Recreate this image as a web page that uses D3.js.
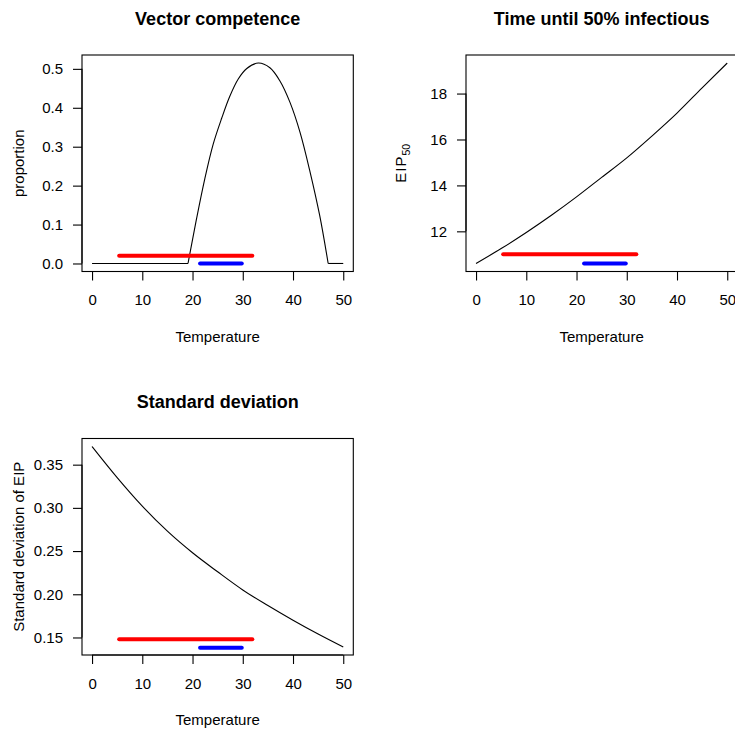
<!DOCTYPE html>
<html lang="en">
<meta charset="utf-8">
<head>
    <title>Temperature dependence</title>
    <script src="https://d3js.org/d3.v7.min.js"></script>
    <style type="text/css">
        body { margin: 0; background: white; }
        svg text { font-family: "Liberation Sans", Arial, sans-serif; fill: #000; }
        .tick-label { font-size: 15px; }
        .axis-title { font-size: 15px; }
        .main-title { font-size: 18px; font-weight: bold; }
    </style>
</head>
<body>
<div id="chart"></div>

<script>
// temperature ranges shown as horizontal bars
var redRange = [5.4, 31.9];
var blueRange = [21.5, 29.8];
var xTicks = [0, 10, 20, 30, 40, 50];

// panel 1 - vector competence
var compTemp = [0, 19.1, 20.8, 22.45, 24.1, 25.8, 27.4, 29.1, 30.8, 33.1, 35.4, 37.4, 39.4, 41.4, 43.4, 45.3, 47.0, 50];
var compValue = [0, 0, 0.115, 0.218, 0.306, 0.373, 0.429, 0.474, 0.501, 0.515, 0.503, 0.469, 0.414, 0.337, 0.235, 0.124, 0, 0];
var compTicks = [0.0, 0.1, 0.2, 0.3, 0.4, 0.5];
var compBars = [0.02, 0];

// panel 2 - EIP50
var eipTemp = [0, 5, 10, 15, 20, 25, 30, 35, 40, 45, 50];
var eipValue = [10.6, 11.25, 11.95, 12.7, 13.5, 14.35, 15.2, 16.15, 17.15, 18.25, 19.33];
var eipTicks = [12, 14, 16, 18];
var eipBars = [11.0, 10.6];

// panel 3 - standard deviation of EIP
var sdTemp = [0, 5, 10, 15, 20, 25, 30, 35, 40, 45, 50];
var sdValue = [0.371, 0.335, 0.302, 0.273, 0.248, 0.226, 0.205, 0.187, 0.170, 0.154, 0.139];
var sdTicks = [0.15, 0.20, 0.25, 0.30, 0.35];
var sdBars = [0.148, 0.138];

var w = 735;
var h = 730;

var svg = d3.select("#chart")
    .append("svg")
    .attr("width", w)
    .attr("height", h);

function drawPanel(p) {
    var g = svg.append("g").attr("transform", "translate(" + p.left + "," + p.top + ")");
    var pw = 271.3, ph = 216.5;

    // R style 4% padding on both axes
    var xScale = d3.scaleLinear().domain([-2, 52]).range([0, pw]);
    var ext = d3.extent(p.values);
    var pad = (ext[1] - ext[0]) * 0.04;
    var yScale = d3.scaleLinear().domain([ext[0] - pad, ext[1] + pad]).range([ph, 0]);

    var pts = p.temps.map(function(t, i) { return [t, p.values[i]]; });
    var line = d3.line()
        .x(function(d) { return xScale(d[0]); })
        .y(function(d) { return yScale(d[1]); });

    if (p.flatEnds) {
        // flat pieces drawn straight, the hump smooth
        g.append("path").attr("d", line(pts.slice(0, 2)))
            .attr("fill", "none").attr("stroke", "#000").attr("stroke-width", 1.1);
        g.append("path").attr("d", line(pts.slice(pts.length - 2)))
            .attr("fill", "none").attr("stroke", "#000").attr("stroke-width", 1.1);
        g.append("path").attr("d", line.curve(d3.curveCatmullRom.alpha(0.5))(pts.slice(1, pts.length - 1)))
            .attr("fill", "none").attr("stroke", "#000").attr("stroke-width", 1.1);
    } else {
        g.append("path").attr("d", line.curve(d3.curveMonotoneX)(pts))
            .attr("fill", "none").attr("stroke", "#000").attr("stroke-width", 1.1);
    }

    // red and blue range bars
    g.append("line")
        .attr("x1", xScale(redRange[0])).attr("x2", xScale(redRange[1]))
        .attr("y1", yScale(p.bars[0])).attr("y2", yScale(p.bars[0]))
        .attr("stroke", "#ff0000").attr("stroke-width", 4).attr("stroke-linecap", "round");
    g.append("line")
        .attr("x1", xScale(blueRange[0])).attr("x2", xScale(blueRange[1]))
        .attr("y1", yScale(p.bars[1])).attr("y2", yScale(p.bars[1]))
        .attr("stroke", "#0000ff").attr("stroke-width", 4).attr("stroke-linecap", "round");

    // box
    g.append("rect")
        .attr("x", 0).attr("y", 0).attr("width", pw).attr("height", ph)
        .attr("fill", "none").attr("stroke", "#000").attr("stroke-width", 1.1);

    // x axis
    var xAxis = d3.axisBottom(xScale).tickValues(xTicks).tickSize(9).tickPadding(14)
        .tickFormat(d3.format("d"));
    var gx = g.append("g").attr("transform", "translate(0," + ph + ")").call(xAxis);
    gx.select(".domain")
        .attr("d", "M" + xScale(0) + ",0H" + xScale(50))
        .attr("stroke-width", 1.1);
    gx.selectAll(".tick line").attr("stroke-width", 1.1);
    gx.selectAll(".tick text").attr("class", "tick-label").attr("font-size", null)
        .attr("font-family", null).attr("dy", "0.71em");

    // y axis
    var yAxis = d3.axisLeft(yScale).tickValues(p.ticks).tickSize(9).tickPadding(10)
        .tickFormat(p.fmt);
    var gy = g.append("g").call(yAxis);
    var yt = p.ticks;
    gy.select(".domain")
        .attr("d", "M0," + yScale(yt[0]) + "V" + yScale(yt[yt.length - 1]))
        .attr("stroke-width", 1.1);
    gy.selectAll(".tick line").attr("stroke-width", 1.1);
    gy.selectAll(".tick text").attr("class", "tick-label").attr("font-size", null)
        .attr("font-family", null);

    // titles
    g.append("text").attr("class", "main-title")
        .attr("x", pw / 2).attr("y", -30.5)
        .attr("text-anchor", "middle").text(p.title);
    g.append("text").attr("class", "axis-title")
        .attr("x", pw / 2).attr("y", ph + 70)
        .attr("text-anchor", "middle").text("Temperature");

    var yl = g.append("text").attr("class", "axis-title")
        .attr("transform", "translate(" + p.ylabX + "," + (ph / 2) + ") rotate(-90)")
        .attr("text-anchor", "middle");
    if (p.ylabSub) {
        yl.append("tspan").attr("letter-spacing", "1px").text(p.ylab);
        yl.append("tspan").attr("font-size", "10.5px").attr("dy", 4).text(p.ylabSub);
    } else {
        yl.text(p.ylab);
    }
}

drawPanel({
    left: 82, top: 55, title: "Vector competence", ylab: "proportion", ylabX: -58,
    temps: compTemp, values: compValue, ticks: compTicks, bars: compBars,
    fmt: d3.format(".1f"), flatEnds: true
});
drawPanel({
    left: 466, top: 55, title: "Time until 50% infectious", ylab: "EIP", ylabSub: "50", ylabX: -60,
    temps: eipTemp, values: eipValue, ticks: eipTicks, bars: eipBars,
    fmt: d3.format("d"), flatEnds: false
});
drawPanel({
    left: 82, top: 438.5, title: "Standard deviation", ylab: "Standard deviation of EIP", ylabX: -58,
    temps: sdTemp, values: sdValue, ticks: sdTicks, bars: sdBars,
    fmt: d3.format(".2f"), flatEnds: false
});
</script>
</body>
</html>
